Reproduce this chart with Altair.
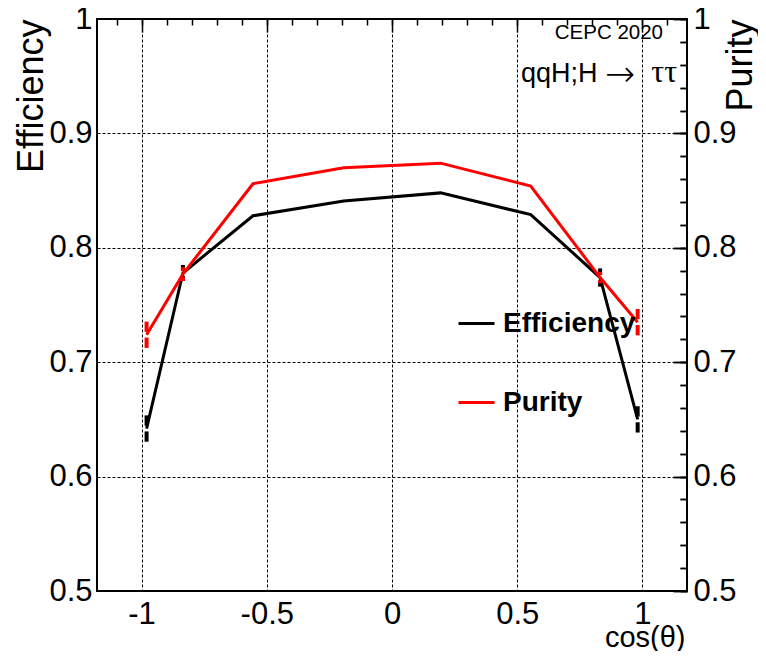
import altair as alt
import pandas as pd

# ---------------- data ----------------
cos_theta = [-0.980, -0.835, -0.555, -0.193, 0.194, 0.554, 0.831, 0.981]
efficiency = [0.642, 0.778, 0.828, 0.841, 0.848, 0.829, 0.774, 0.650]
efficiency_err = [0.0115, 0.007, 0.002, 0.002, 0.002, 0.002, 0.008, 0.0115]
purity = [0.724, 0.777, 0.856, 0.870, 0.874, 0.854, 0.774, 0.735]
purity_err = [0.0115, 0.006, 0.002, 0.002, 0.002, 0.002, 0.005, 0.0115]

series_names = ["Efficiency", "Purity"]
series_colors = ["black", "#ff0000"]

x_major = [-1, -0.5, 0, 0.5, 1]
x_minor = [-1.1, -1.0, -0.9, -0.8, -0.7, -0.6, -0.5, -0.4, -0.3, -0.2, -0.1, 0.0,
           0.1, 0.2, 0.3, 0.4, 0.5, 0.6, 0.7, 0.8, 0.9, 1.0, 1.1]
y_major = [0.5, 0.6, 0.7, 0.8, 0.9, 1]
y_minor = [0.5, 0.52, 0.54, 0.56, 0.58, 0.6, 0.62, 0.64, 0.66, 0.68, 0.7, 0.72,
           0.74, 0.76, 0.78, 0.8, 0.82, 0.84, 0.86, 0.88, 0.9, 0.92, 0.94, 0.96,
           0.98, 1.0]

x_title = "cos(θ)"
y_left_title = "Efficiency"
y_right_title = "Purity"
label_top = "CEPC 2020"
label_process = ["qqH;H", "→", "ττ"]

# ---------------- styling constants ----------------
FONT = "Liberation Sans"
GAP = 0.0025          # gap in error bars around the point (ROOT style)
X_DOMAIN = [-1.178, 1.178]
Y_DOMAIN = [0.5, 1.0]
W, H = 590, 572


def make_df(vals, errs, name):
    df = pd.DataFrame({"cos": cos_theta, "value": vals, "err": errs})
    df["series"] = name
    df["up_lo"] = df["value"] + GAP
    df["up_hi"] = df["value"] + df["err"]
    df["lo_lo"] = df["value"] - df["err"]
    df["lo_hi"] = df["value"] - GAP
    return df


eff_df = make_df(efficiency, efficiency_err, series_names[0])
pur_df = make_df(purity, purity_err, series_names[1])

xs = alt.Scale(domain=X_DOMAIN, nice=False, zero=False)
ys = alt.Scale(domain=Y_DOMAIN, nice=False, zero=False)

color = alt.Color(
    "series:N",
    scale=alt.Scale(domain=series_names, range=series_colors),
    legend=alt.Legend(
        title=None, orient="none", legendX=360, legendY=285,
        symbolType="stroke", symbolStrokeWidth=3, symbolSize=1296,
        labelFont=FONT, labelFontSize=28, labelFontWeight="bold",
        labelColor="black", labelOffset=7, rowPadding=45, padding=0,
    ),
)


def tick_axis(values, size, orient=None):
    kw = dict(values=values, labels=False, grid=False, domain=False, ticks=True,
              tickSize=size, offset=-size, tickColor="black", tickWidth=1.5,
              title=None)
    if orient:
        kw["orient"] = orient
    return alt.Axis(**kw)


ax_x_main = alt.Axis(
    values=x_major, labelExpr="toString(datum.value)", labelFont=FONT,
    labelFontSize=31, labelPadding=8, labelColor="black", labelFlush=False,
    labelOverlap=False, ticks=False, domain=False, grid=True,
    gridDash=[3, 2], gridColor="black", gridOpacity=1, gridWidth=1,
    title=x_title, titleFont=FONT, titleFontSize=29, titleFontWeight="normal",
    titleColor="black", titleAnchor="end", titleAlign="right",
    titleBaseline="alphabetic", titleX=W - 2, titleY=55,
)
ax_y_left_main = alt.Axis(
    values=y_major, labelExpr="toString(datum.value)", labelFont=FONT,
    labelFontSize=31, labelPadding=5, labelColor="black", labelFlush=False,
    labelOverlap=False, ticks=False, domain=False, grid=True,
    gridDash=[3, 2], gridColor="black", gridOpacity=1, gridWidth=1,
    title=y_left_title, titleFont=FONT, titleFontSize=36,
    titleFontWeight="normal", titleColor="black", titleAngle=270,
    titleAnchor="end", titleAlign="right", titleBaseline="alphabetic",
    titleX=-55, titleY=0,
)
ax_y_right_main = alt.Axis(
    orient="right", values=y_major, labelExpr="toString(datum.value)",
    labelFont=FONT, labelFontSize=31, labelPadding=6, labelColor="black",
    labelFlush=False, labelOverlap=False, ticks=False, domain=False,
    grid=False, title=y_right_title, titleFont=FONT, titleFontSize=36,
    titleFontWeight="normal", titleColor="black", titleAngle=270,
    titleAnchor="end", titleAlign="right", titleBaseline="alphabetic",
    titleX=64, titleY=0,
)

# Efficiency line (carries the main axes)
eff_line = alt.Chart(eff_df).mark_line(strokeWidth=3).encode(
    x=alt.X("cos:Q", scale=xs, axis=ax_x_main),
    y=alt.Y("value:Q", scale=ys, axis=ax_y_left_main),
    color=color,
)
eff_up = alt.Chart(eff_df).transform_filter(f"datum.err > {GAP}").mark_rule(
    color="black", strokeWidth=4).encode(
    x=alt.X("cos:Q", scale=xs, axis=tick_axis(x_major, 13)),
    y=alt.Y("up_lo:Q", scale=ys, axis=tick_axis(y_major, 14)),
    y2="up_hi:Q",
)
eff_lo = alt.Chart(eff_df).transform_filter(f"datum.err > {GAP}").mark_rule(
    color="black", strokeWidth=4).encode(
    x=alt.X("cos:Q", scale=xs, axis=tick_axis(x_minor, 6)),
    y=alt.Y("lo_lo:Q", scale=ys, axis=tick_axis(y_minor, 7)),
    y2="lo_hi:Q",
)
pur_line = alt.Chart(pur_df).mark_line(strokeWidth=3).encode(
    x=alt.X("cos:Q", scale=xs, axis=None),
    y=alt.Y("value:Q", scale=ys, axis=ax_y_right_main),
    color=color,
)
pur_up = alt.Chart(pur_df).transform_filter(f"datum.err > {GAP}").mark_rule(
    color="#ff0000", strokeWidth=4).encode(
    x=alt.X("cos:Q", scale=xs, axis=None),
    y=alt.Y("up_lo:Q", scale=ys, axis=tick_axis(y_major, 14, "right")),
    y2="up_hi:Q",
)
pur_lo = alt.Chart(pur_df).transform_filter(f"datum.err > {GAP}").mark_rule(
    color="#ff0000", strokeWidth=4).encode(
    x=alt.X("cos:Q", scale=xs, axis=None),
    y=alt.Y("lo_lo:Q", scale=ys, axis=tick_axis(y_minor, 7, "right")),
    y2="lo_hi:Q",
)

one = alt.Data(values=[{}])
txt_top = alt.Chart(one).mark_text(
    text=label_top, font=FONT, fontSize=20.5, align="right",
    baseline="alphabetic", color="black").encode(
    x=alt.value(566), y=alt.value(20))
txt_proc1 = alt.Chart(one).mark_text(
    text=label_process[0], font=FONT, fontSize=27, align="left",
    baseline="alphabetic", color="black").encode(
    x=alt.value(424), y=alt.value(63))
txt_proc2 = alt.Chart(one).mark_text(
    text=label_process[1], font="DejaVu Sans", fontSize=36, fontWeight=200,
    align="center", baseline="middle", color="black").encode(
    x=alt.value(523), y=alt.value(56))
txt_proc3 = alt.Chart(one).mark_text(
    text=label_process[2], font="Liberation Serif", fontSize=32, align="right",
    baseline="alphabetic", color="black").encode(
    x=alt.value(580), y=alt.value(63))

chart = alt.layer(
    eff_line, eff_up, eff_lo, pur_line, pur_up, pur_lo,
    txt_top, txt_proc1, txt_proc2, txt_proc3
).resolve_scale(
    x="shared", y="shared", color="shared"
).resolve_axis(
    x="independent", y="independent"
).properties(
    width=W, height=H,
    autosize=alt.AutoSizeParams(type="none"),
    padding={"left": 89, "top": 11, "right": 71, "bottom": 60},
    background="white",
).configure_view(
    stroke="black", strokeWidth=2
)

chart.save("out.html", embed_options={"renderer": "svg", "actions": False})
